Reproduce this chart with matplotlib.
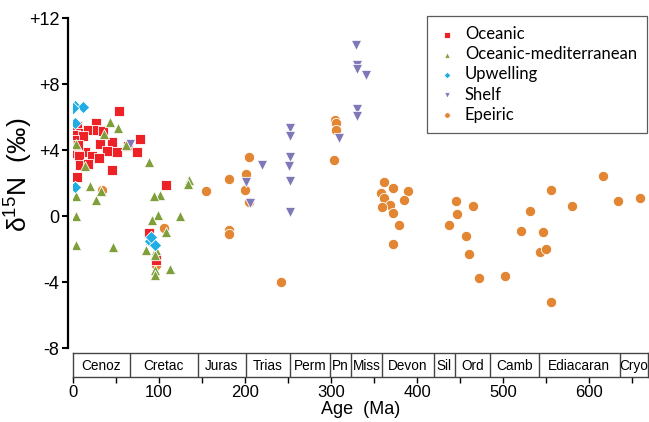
import matplotlib
matplotlib.use("Agg")
import matplotlib.pyplot as plt

plt.rcParams['font.family'] = ['Liberation Sans', 'DejaVu Sans']
plt.rcParams['mathtext.default'] = 'regular'

# ---- data (age in Ma, d15N in permil) ----
oceanic_age = [53.9, 26.6, 4.6, 8.4, 18, 27.8, 34.7, 2.7, 12.3, 77.8, 31.6, 45.1, 64.3,
               4.6, 14.2, 39.3, 50.9, 75.2, 7.6, 22, 30.8, 8.4, 18, 45.1, 5.3, 108,
               88.6, 96.4, 1.5, 6.1]
oceanic_d15n = [6.36, 5.66, 5.45, 5.05, 5.25, 5.25, 5.15, 4.95, 4.85, 4.69, 4.4, 4.48, 4.24,
                3.84, 3.88, 3.94, 3.88, 3.88, 3.64, 3.64, 3.52, 3.13, 3.18, 2.79, 2.39, 1.88,
                -1.0, -2.62, 4.65, 4.35]

medit_age = [43.1, 52.7, 36.2, 3.5, 61.7, 88.6, 14.2, 134.5, 133.7, 20, 32.4, 3.8, 101,
             94.4, 26.6, 3.5, 99, 92.5, 124.9, 3.8, 47, 108.7, 89.4, 84.8, 97.2, 95.2,
             95.2, 95.2, 112.5]
medit_d15n = [5.7, 5.36, 5.01, 4.41, 4.35, 3.3, 3.03, 2.22, 1.96, 1.82, 1.56, 1.21, 1.32,
              1.21, 0.97, 0.0, 0.1, -0.24, 0.0, -1.76, -1.85, -0.97, -1.41, -2.06, -2.02, -2.32,
              -3.23, -3.53, -3.19]

upw_age = [2.7, 12.3, 0.9, 2.7, 2.7, 89.4, 95.2, 90.5]
upw_d15n = [6.7, 6.6, 6.55, 5.68, 1.76, -1.52, -1.72, -1.25]

shelf_age = [328.5, 330.4, 330, 340.8, 330.4, 330.4, 309.2, 252.2, 252.2, 252.5, 219.3,
             251.4, 252.5, 201.3, 205.9, 252.5, 66.3]
shelf_d15n = [10.4, 9.19, 8.9, 8.59, 6.53, 6.06, 4.75, 5.36, 4.85, 3.58, 3.13,
              3.03, 2.12, 2.06, 0.81, 0.24, 4.4]

epe_age = [33.5, 154.2, 182, 106, 182, 182, 96.4, 204.3, 201.3, 200.1, 204.3, 241.8,
           304.6, 305.4, 306.1, 303.8, 361.2, 372, 389.4, 357.4, 361.2, 385.2, 368.2,
           358.6, 372, 379, 372, 445.3, 464.5, 445.7, 436.8, 456.9, 460.7, 471.5, 502,
           520, 531.3, 555.2, 546.3, 542.5, 549, 555.2, 579.5, 615.7, 633.1, 658.2]
epe_d15n = [1.62, 1.52, 2.28, -0.7, -0.8, -1.07, -2.93, 3.58, 2.57, 1.58, 0.85, -3.98,
            5.86, 5.66, 5.25, 3.44, 2.06, 1.7, 1.52, 1.42, 1.12, 0.97, 0.71,
            0.55, 0.21, -0.52, -1.7, 0.91, 0.65, 0.12, -0.55, -1.17, -2.3, -3.72, -3.59,
            -0.87, 0.35, 1.58, -0.95, -2.18, -1.98, -5.21, 0.65, 2.47, 0.91, 1.12]

period_edges = [0, 66, 145, 201, 252, 299, 323, 359, 419, 444, 485, 541, 635, 668]
period_names = ['Cenoz', 'Cretac', 'Juras', 'Trias', 'Perm', 'Pn', 'Miss', 'Devon',
                'Sil', 'Ord', 'Camb', 'Ediacaran', 'Cryo']

W, H = 649, 422
fig = plt.figure(figsize=(W / 100, H / 100), dpi=100)
ax = fig.add_axes([72.7 / W, (H - 348.3) / H, (648 - 72.7) / W, 330 / H])
ts = fig.add_axes([72.7 / W, (H - 376.7) / H, (648 - 72.7) / W, 24 / H])

xmax = period_edges[-1]
kw = dict(s=55, edgecolors='white', linewidths=0.6)
h_epe = ax.scatter(epe_age, epe_d15n, marker='o', color='#E38633', zorder=2, **kw)
h_oc = ax.scatter(oceanic_age, oceanic_d15n, marker='s', color='#EC2227', zorder=3, **kw)
h_sh = ax.scatter(shelf_age, shelf_d15n, marker='v', color='#7E78B8', zorder=4, **kw)
h_med = ax.scatter(medit_age, medit_d15n, marker='^', color='#7E9F3A', zorder=5, **kw)
h_up = ax.scatter(upw_age, upw_d15n, marker='D', color='#1FADE4', zorder=6,
                  s=40, edgecolors='white', linewidths=0.6)

ax.set_xlim(0, xmax)
ax.set_ylim(-8, 12)
for side in ['top', 'right', 'bottom']:
    ax.spines[side].set_visible(False)
ax.spines['left'].set_position(('outward', 3.6))
ax.spines['left'].set_linewidth(1.6)
ax.set_xticks([])
ax.set_yticks([-8, -4, 0, 4, 8, 12])
ax.set_yticklabels(['-8', '-4', '0', '+4', '+8', '+12'])
ax.tick_params(axis='y', direction='out', length=4, width=1.5, labelsize=13, pad=2)
ax.set_ylabel('δ$^{15}$N  (‰)', fontsize=19)
ax.yaxis.set_label_coords(-0.066, 0.525)

leg = ax.legend([h_oc, h_med, h_up, h_sh, h_epe],
                ['Oceanic', 'Oceanic-mediterranean', 'Upwelling', 'Shelf', 'Epeiric'],
                loc='upper right', bbox_to_anchor=(647 / W, 1 - 16 / H),
                bbox_transform=fig.transFigure, borderaxespad=0, markerscale=0.55,
                prop={'family': ['Lato', 'DejaVu Sans'], 'size': 12},
                frameon=True, fancybox=False, edgecolor='#333333', handletextpad=0.5,
                labelspacing=0.25, borderpad=0.6, handlelength=1.2)
leg.get_frame().set_linewidth(0.9)

# geologic timescale bar
ts.set_xlim(0, xmax)
ts.set_ylim(0, 1)
ts.set_yticks([])
for e in period_edges[1:-1]:
    ts.axvline(e, color='#444444', lw=1)
for i, name in enumerate(period_names):
    mid = (period_edges[i] + period_edges[i + 1]) / 2
    ts.text(mid, 0.45, name, ha='center', va='center', fontsize=9.8)
for sp in ts.spines.values():
    sp.set_linewidth(1)
    sp.set_color('#444444')
ts.set_xticks([0, 100, 200, 300, 400, 500, 600])
ts.set_xticks(range(50, 700, 100), minor=True)
ts.tick_params(axis='x', which='both', direction='out', length=4, width=1, labelsize=12, pad=2)
ts.set_xlabel('Age  (Ma)', fontsize=13, labelpad=1)

fig.savefig('out.png', dpi=100)
